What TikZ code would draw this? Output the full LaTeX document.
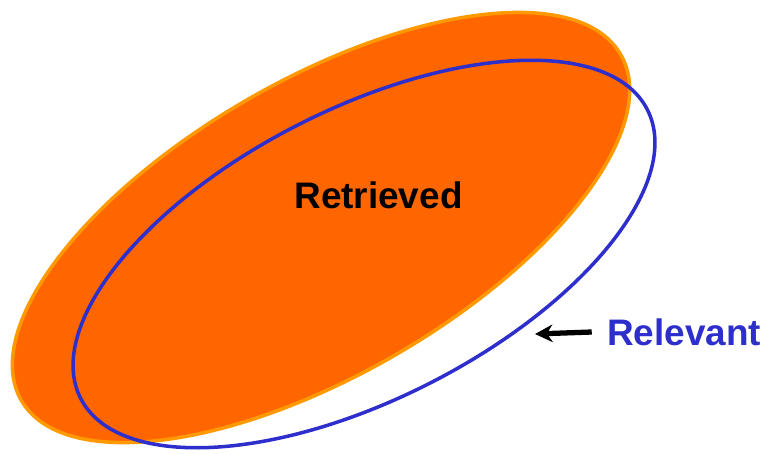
\documentclass[tikz,border=0pt]{standalone}
\usepackage{fontspec}
\setmainfont{Liberation Sans}
\usetikzlibrary{shapes.geometric, arrows.meta, positioning}
\definecolor{retrorange}{HTML}{FF6600}
\definecolor{retredge}{HTML}{FF9900}
\definecolor{relblue}{HTML}{2E2ECC}

\begin{document}
\begin{tikzpicture}[
  setshape/.style={ellipse, inner sep=0pt, line width=2pt},
  label/.style={inner sep=0pt, font=\fontsize{21}{25}\selectfont\bfseries},
  arrow/.style={-{Stealth[length=10pt, width=10pt]}, line width=3pt},
]
  \useasboundingbox (0,0) rectangle (15.36,-9.06);
  % the two sets
  \node[setshape, draw=retredge, fill=retrorange,
        minimum width=13.84cm, minimum height=5.9cm, rotate=30]
        (retrset) at (6.42,-4.55) {};
  \node[setshape, draw=relblue,
        minimum width=12.72cm, minimum height=5.8cm, rotate=27]
        (relset) at (7.28,-5.08) {};

  \node[label] (retrieved) at (7.57,-3.9) {Retrieved};
  \node[label, text=relblue] (relevant) at (13.68,-6.64) {Relevant};

  \coordinate (reltip) at (10.7,-6.68);
  \draw[arrow] ([xshift=-0.3cm]relevant.west) -- (reltip);
\end{tikzpicture}
\end{document}
